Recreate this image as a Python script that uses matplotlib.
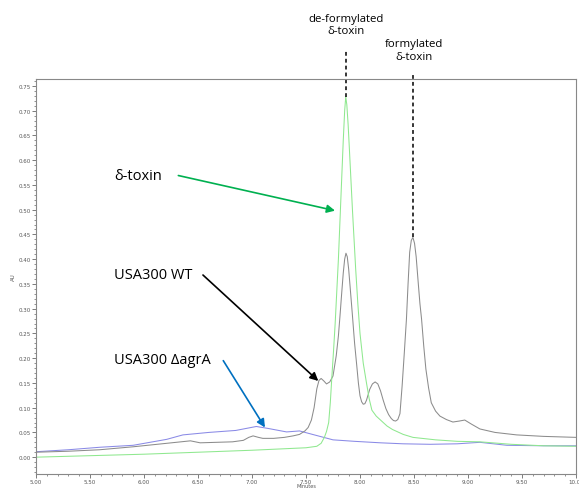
import matplotlib
matplotlib.use("Agg")
import matplotlib.pyplot as plt
from matplotlib.ticker import MultipleLocator, FormatStrFormatter

# ---- data ----
toxin_t = [5.0, 5.5, 6.0, 6.5, 7.0, 7.3, 7.5, 7.6, 7.64, 7.67, 7.69, 7.71, 7.725, 7.74,
           7.755, 7.77, 7.785, 7.80, 7.815, 7.83, 7.845, 7.858, 7.868, 7.878, 7.89,
           7.90, 7.915, 7.93, 7.945, 7.96, 7.98, 8.00, 8.03, 8.06, 8.085, 8.11, 8.15,
           8.19, 8.25, 8.30, 8.40, 8.49, 8.70, 8.90, 9.11, 9.40, 9.70, 10.0]
toxin_au = [0.000, 0.003, 0.006, 0.010, 0.014, 0.017, 0.019, 0.022, 0.028, 0.040, 0.052,
            0.070, 0.110, 0.164, 0.215, 0.27, 0.335, 0.40, 0.48, 0.56, 0.64, 0.700,
            0.728, 0.712, 0.672, 0.630, 0.565, 0.500, 0.440, 0.38, 0.31, 0.25, 0.19,
            0.15, 0.118, 0.095, 0.083, 0.075, 0.063, 0.056, 0.046, 0.040, 0.035,
            0.032, 0.031, 0.026, 0.023, 0.022]

wt_t = [5.0, 5.3, 5.59, 5.9, 6.21, 6.43, 6.52, 6.82, 6.92, 6.97, 7.01, 7.06, 7.10,
        7.20, 7.30, 7.38, 7.44, 7.49, 7.52, 7.55, 7.575, 7.60, 7.62, 7.64, 7.665,
        7.69, 7.72, 7.75, 7.78, 7.80, 7.815, 7.83, 7.845, 7.858, 7.87, 7.882, 7.895,
        7.91, 7.93, 7.95, 7.97, 7.985, 8.00, 8.015, 8.03, 8.045, 8.06, 8.09, 8.115,
        8.14, 8.165, 8.19, 8.215, 8.24, 8.265, 8.29, 8.31, 8.33, 8.35, 8.37, 8.39,
        8.41, 8.43, 8.445, 8.46, 8.475, 8.49, 8.505, 8.52, 8.54, 8.555, 8.57, 8.59,
        8.61, 8.635, 8.66, 8.70, 8.74, 8.80, 8.86, 8.92, 8.97, 9.03, 9.11, 9.25,
        9.45, 9.70, 10.0]
wt_au = [0.010, 0.012, 0.015, 0.021, 0.028, 0.033, 0.029, 0.031, 0.034, 0.040, 0.043,
         0.040, 0.038, 0.038, 0.040, 0.043, 0.046, 0.053, 0.060, 0.075, 0.100, 0.138,
         0.155, 0.159, 0.154, 0.148, 0.152, 0.164, 0.205, 0.245, 0.286, 0.330, 0.372,
         0.400, 0.412, 0.405, 0.380, 0.340, 0.286, 0.230, 0.185, 0.150, 0.124, 0.112,
         0.107, 0.108, 0.115, 0.137, 0.148, 0.152, 0.148, 0.134, 0.115, 0.098, 0.086,
         0.078, 0.074, 0.073, 0.076, 0.088, 0.144, 0.210, 0.279, 0.350, 0.414, 0.438,
         0.444, 0.432, 0.405, 0.350, 0.310, 0.279, 0.225, 0.178, 0.140, 0.110, 0.093,
         0.083, 0.076, 0.071, 0.073, 0.075, 0.067, 0.057, 0.050, 0.045, 0.042, 0.040]

agr_t = [5.0, 5.3, 5.59, 5.9, 6.21, 6.36, 6.6, 6.85, 7.04, 7.15, 7.32, 7.44, 7.56,
         7.75, 7.95, 8.19, 8.40, 8.65, 8.90, 9.11, 9.36, 9.70, 10.0]
agr_au = [0.011, 0.015, 0.020, 0.024, 0.036, 0.045, 0.050, 0.054, 0.062, 0.058, 0.051,
          0.053, 0.046, 0.035, 0.032, 0.029, 0.027, 0.026, 0.027, 0.030, 0.024,
          0.023, 0.023]

fig = plt.figure(figsize=(5.79, 4.89), dpi=100)
ax = fig.add_axes([36/579, 1-475/489, 540/579, 395/489])

ax.plot(agr_t, agr_au, color="#8a8ae6", lw=0.75)
ax.plot(wt_t, wt_au, color="#8c8c8c", lw=0.75)
ax.plot(toxin_t, toxin_au, color="#8fe88f", lw=0.75)

ax.set_xlim(5.0, 10.0)
ax.set_ylim(-0.034, 0.764)
ax.xaxis.set_major_locator(MultipleLocator(0.5))
ax.xaxis.set_minor_locator(MultipleLocator(0.1))
ax.yaxis.set_major_locator(MultipleLocator(0.05))
ax.yaxis.set_minor_locator(MultipleLocator(0.01))
ax.xaxis.set_major_formatter(FormatStrFormatter("%.2f"))
ax.yaxis.set_major_formatter(FormatStrFormatter("%.2f"))
ax.tick_params(which="major", length=2.6, width=0.6, color="#666666",
               labelsize=4.0, labelcolor="#555555", pad=0.8)
ax.tick_params(which="minor", length=1.5, width=0.5, color="#666666")
for s in ax.spines.values():
    s.set_color("#888888")
    s.set_linewidth(0.8)
ax.set_ylabel("AU", fontsize=4.0, color="#555555", labelpad=2)
fig.text(306/579, 1-486.6/489, "Minutes", fontsize=3.6, color="#555555",
         ha="center", va="center")

txt_font = ["Open Sans", "DejaVu Sans"]

# annotations
ax.text(5.72, 0.570, "δ-toxin", fontsize=10.5, family=txt_font, va="center", ha="left")
ax.annotate("", xy=(7.769, 0.498), xytext=(6.318, 0.569),
            arrowprops=dict(arrowstyle="-|>", color="#00b050", lw=1.2,
                            mutation_scale=12, shrinkA=0, shrinkB=0))
ax.text(5.72, 0.370, "USA300 WT", fontsize=10.5, family=txt_font, va="center", ha="left")
ax.annotate("", xy=(7.614, 0.154), xytext=(6.546, 0.368),
            arrowprops=dict(arrowstyle="-|>", color="black", lw=1.2,
                            mutation_scale=12, shrinkA=0, shrinkB=0))
ax.text(5.72, 0.198, "USA300 ΔagrA", fontsize=10.5, family=txt_font, va="center", ha="left")
ax.annotate("", xy=(7.120, 0.060), xytext=(6.734, 0.195),
            arrowprops=dict(arrowstyle="-|>", color="#0070c0", lw=1.2,
                            mutation_scale=12, shrinkA=0, shrinkB=0))

# peak labels with dashed guide lines
ax.plot([7.868, 7.868], [0.728, 0.821], ls=(0, (2.5, 2)), color="black", lw=1.1, clip_on=False)
ax.plot([8.49, 8.49], [0.445, 0.774], ls=(0, (2.5, 2)), color="black", lw=1.1, clip_on=False)
ax.text(7.868, 0.874, "de-formylated\nδ-toxin", fontsize=8.2, family=txt_font,
        ha="center", va="center", linespacing=1.2, clip_on=False)
ax.text(8.50, 0.822, "formylated\nδ-toxin", fontsize=8.2, family=txt_font,
        ha="center", va="center", linespacing=1.2, clip_on=False)

fig.savefig("out.png", dpi=100)
